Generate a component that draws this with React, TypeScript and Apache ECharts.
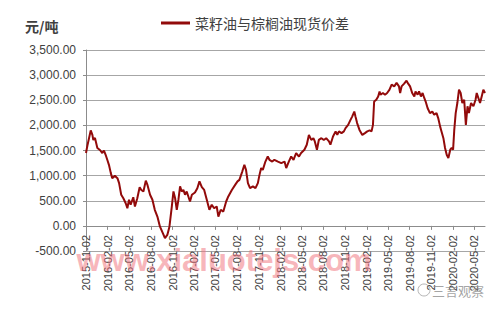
import React, { useEffect, useRef } from "react";
import * as echarts from "echarts";

// ---- data ----
const START_DATE = "2015-11-02";
const END_DATE = "2020-06-16";
const seriesName = "菜籽油与棕榈油现货价差";
const unitLabel = "元/吨";
const yTicks = [-500, 0, 500, 1000, 1500, 2000, 2500, 3000, 3500];
const labelMonths = ["02", "05", "08", "11"];

const dates = [
  "2015-11-02", "2015-11-08", "2015-11-15", "2015-11-22", "2015-11-29", "2015-12-03", "2015-12-10", "2015-12-20",
  "2015-12-31", "2016-01-10", "2016-01-17", "2016-01-24", "2016-01-31", "2016-02-07", "2016-02-15", "2016-02-21",
  "2016-03-03", "2016-03-14", "2016-03-21", "2016-03-30", "2016-04-08", "2016-04-18", "2016-04-25", "2016-05-02",
  "2016-05-09", "2016-05-20", "2016-05-27", "2016-06-06", "2016-06-16", "2016-06-23", "2016-07-02", "2016-07-12",
  "2016-07-19", "2016-07-30", "2016-08-09", "2016-08-19", "2016-08-30", "2016-09-10", "2016-09-22", "2016-10-01",
  "2016-10-11", "2016-10-20", "2016-10-30", "2016-11-06", "2016-11-13", "2016-11-20", "2016-11-27", "2016-12-04",
  "2016-12-11", "2016-12-18", "2016-12-25", "2017-01-01", "2017-01-08", "2017-01-15", "2017-01-23", "2017-02-05",
  "2017-02-15", "2017-02-24", "2017-03-06", "2017-03-16", "2017-03-27", "2017-04-07", "2017-04-17", "2017-04-27",
  "2017-05-08", "2017-05-15", "2017-05-25", "2017-06-05", "2017-06-17", "2017-06-26", "2017-07-11", "2017-07-25",
  "2017-08-04", "2017-08-12", "2017-08-24", "2017-09-02", "2017-09-09", "2017-09-17", "2017-09-26", "2017-10-08",
  "2017-10-19", "2017-10-29", "2017-11-05", "2017-11-12", "2017-11-19", "2017-11-30", "2017-12-10", "2017-12-17",
  "2017-12-29", "2018-01-07", "2018-01-22", "2018-02-05", "2018-02-19", "2018-02-26", "2018-03-09", "2018-03-19",
  "2018-03-29", "2018-04-09", "2018-04-21", "2018-04-30", "2018-05-14", "2018-05-24", "2018-06-02", "2018-06-12",
  "2018-06-21", "2018-06-27", "2018-07-06", "2018-07-14", "2018-07-25", "2018-08-04", "2018-08-14", "2018-08-26",
  "2018-09-01", "2018-09-12", "2018-09-23", "2018-09-30", "2018-10-07", "2018-10-18", "2018-10-28", "2018-11-04",
  "2018-11-15", "2018-11-25", "2018-12-02", "2018-12-11", "2018-12-16", "2018-12-23", "2019-01-02", "2019-01-14",
  "2019-01-25", "2019-02-04", "2019-02-14", "2019-02-22", "2019-02-28", "2019-03-05", "2019-03-14", "2019-03-22",
  "2019-03-28", "2019-04-01", "2019-04-11", "2019-04-20", "2019-04-29", "2019-05-09", "2019-05-18", "2019-05-29",
  "2019-06-08", "2019-06-18", "2019-06-23", "2019-06-29", "2019-07-10", "2019-07-20", "2019-07-27", "2019-08-04",
  "2019-08-13", "2019-08-22", "2019-08-27", "2019-09-05", "2019-09-11", "2019-09-19", "2019-09-26", "2019-10-03",
  "2019-10-09", "2019-10-17", "2019-10-27", "2019-11-06", "2019-11-14", "2019-11-24", "2019-12-01", "2019-12-09",
  "2019-12-15", "2019-12-23", "2019-12-30", "2020-01-06", "2020-01-13", "2020-01-21", "2020-01-27", "2020-02-02",
  "2020-02-07", "2020-02-13", "2020-02-20", "2020-02-27", "2020-03-05", "2020-03-12", "2020-03-20", "2020-03-27",
  "2020-04-03", "2020-04-09", "2020-04-18", "2020-04-28", "2020-05-07", "2020-05-12", "2020-05-19", "2020-05-26",
  "2020-06-02", "2020-06-09", "2020-06-16",
];

const values = [
  1450, 1600, 1750, 1900, 1810, 1710, 1750, 1550,
  1510, 1450, 1500, 1415, 1315, 1215, 1050, 950,
  995, 950, 850, 620, 550, 450, 350, 520,
  420, 570, 385, 550, 770, 715, 685, 900,
  815, 620, 520, 320, 185, -15, -145, -245,
  -180, -15, 385, 685, 550, 320, 520, 785,
  685, 715, 620, 685, 585, 485, 620, 665,
  750, 885, 770, 715, 520, 320, 420, 350,
  385, 185, 320, 285, 485, 585, 715, 815,
  885, 915, 1080, 1215, 1115, 850, 750, 785,
  750, 850, 1015, 1150, 1115, 1280, 1380, 1315,
  1280, 1315, 1280, 1250, 1280, 1150, 1280, 1380,
  1315, 1450, 1380, 1450, 1515, 1615, 1810, 1710,
  1745, 1680, 1515, 1710, 1745, 1710, 1745, 1680,
  1615, 1780, 1880, 1810, 1880, 1845, 1880, 1945,
  2010, 2110, 2175, 2275, 2175, 2045, 1910, 1810,
  1845, 1880, 1900, 1880, 2010, 2475, 2510, 2575,
  2675, 2610, 2645, 2610, 2645, 2710, 2810, 2775,
  2845, 2775, 2645, 2775, 2830, 2890, 2830, 2775,
  2645, 2575, 2675, 2610, 2675, 2575, 2645, 2545,
  2475, 2345, 2245, 2275, 2210, 2245, 2145, 1980,
  1880, 1745, 1550, 1415, 1350, 1515, 1550, 1515,
  1910, 2245, 2445, 2710, 2645, 2445, 2510, 2010,
  2380, 2245, 2445, 2380, 2510, 2645, 2545, 2445,
  2575, 2710, 2645,
];

function buildCategories(start: string, end: string): string[] {
  const out: string[] = [];
  const s = Date.parse(start + "T00:00:00Z");
  const e = Date.parse(end + "T00:00:00Z");
  for (let t = s; t <= e; t += 86400000) {
    out.push(new Date(t).toISOString().slice(0, 10));
  }
  return out;
}

const isLabelDay = (v: string) => v.slice(8, 10) === "02" && labelMonths.includes(v.slice(5, 7));

export default function App() {
  const ref = useRef<HTMLDivElement>(null);
  useEffect(() => {
    document.body.style.margin = "0";
    if (!ref.current) return;
    const chart = echarts.init(ref.current, null, { renderer: "svg" });
    const categories = buildCategories(START_DATE, END_DATE);
    const font = "'Liberation Sans', Arial, sans-serif";
    const cjk = "'Noto Sans CJK SC', sans-serif";
    chart.setOption({
      animation: false,
      backgroundColor: "#ffffff",
      title: {
        text: unitLabel,
        left: 20,
        top: 14,
        textStyle: { fontSize: 14, fontWeight: "bold", color: "#404040", fontFamily: cjk },
      },
      legend: {
        left: 156,
        top: 11,
        icon: "rect",
        itemWidth: 29,
        itemHeight: 3,
        textStyle: { fontSize: 14, color: "#404040", fontFamily: cjk },
        data: [seriesName],
      },
      grid: { left: 86, right: 15, top: 50, bottom: 59, containLabel: false, outerBoundsMode: "none" },
      xAxis: {
        type: "category",
        data: categories,
        boundaryGap: false,
        axisLine: { onZero: true, lineStyle: { color: "#8c8c8c", width: 1 } },
        axisTick: {
          show: true,
          length: 4,
          interval: (_i: number, v: string) => isLabelDay(v),
          lineStyle: { color: "#8c8c8c" },
        },
        axisLabel: {
          rotate: 90,
          margin: -16,
          fontSize: 11,
          color: "#404040",
          fontFamily: font,
          interval: (_i: number, v: string) => isLabelDay(v),
        },
        splitLine: { show: false },
      },
      yAxis: {
        type: "value",
        min: yTicks[0],
        max: yTicks[yTicks.length - 1],
        interval: 500,
        axisLine: { show: true, lineStyle: { color: "#8c8c8c", width: 1 } },
        axisTick: { show: true, length: 3, lineStyle: { color: "#8c8c8c" } },
        axisLabel: {
          margin: 10,
          fontSize: 12,
          color: "#404040",
          fontFamily: font,
          formatter: (v: number) =>
            v.toLocaleString("en-US", { minimumFractionDigits: 2, maximumFractionDigits: 2 }),
        },
        splitLine: { show: true, lineStyle: { color: "#a6a6a6", width: 1 } },
      },
      series: [
        {
          name: seriesName,
          type: "line",
          data: dates.map((d, i) => [d, values[i]]),
          showSymbol: false,
          symbol: "none",
          lineStyle: { color: "#920a0a", width: 2 },
          itemStyle: { color: "#920a0a" },
          z: 3,
        },
      ],
      graphic: [
        {
          type: "text",
          x: 224,
          y: 260,
          silent: true,
          z: 100,
          style: {
            text: "www.xialuotejs.com",
            fontSize: 31,
            fontWeight: "bold",
            fontFamily: font,
            fill: "rgba(240,110,120,0.5)",
            textAlign: "center",
            textVerticalAlign: "middle",
          },
        },
        {
          type: "circle",
          shape: { cx: 424, cy: 290, r: 6 },
          silent: true,
          z: 100,
          style: { fill: "none", stroke: "rgba(150,150,150,0.7)", lineWidth: 1 },
        },
        {
          type: "text",
          x: 432,
          y: 290,
          silent: true,
          z: 100,
          style: {
            text: "三言观察",
            fontSize: 13,
            fontFamily: cjk,
            fill: "rgba(140,140,140,0.8)",
            textVerticalAlign: "middle",
          },
        },
      ],
    });
    return () => chart.dispose();
  }, []);
  return <div ref={ref} style={{ width: 500, height: 310 }} />;
}
